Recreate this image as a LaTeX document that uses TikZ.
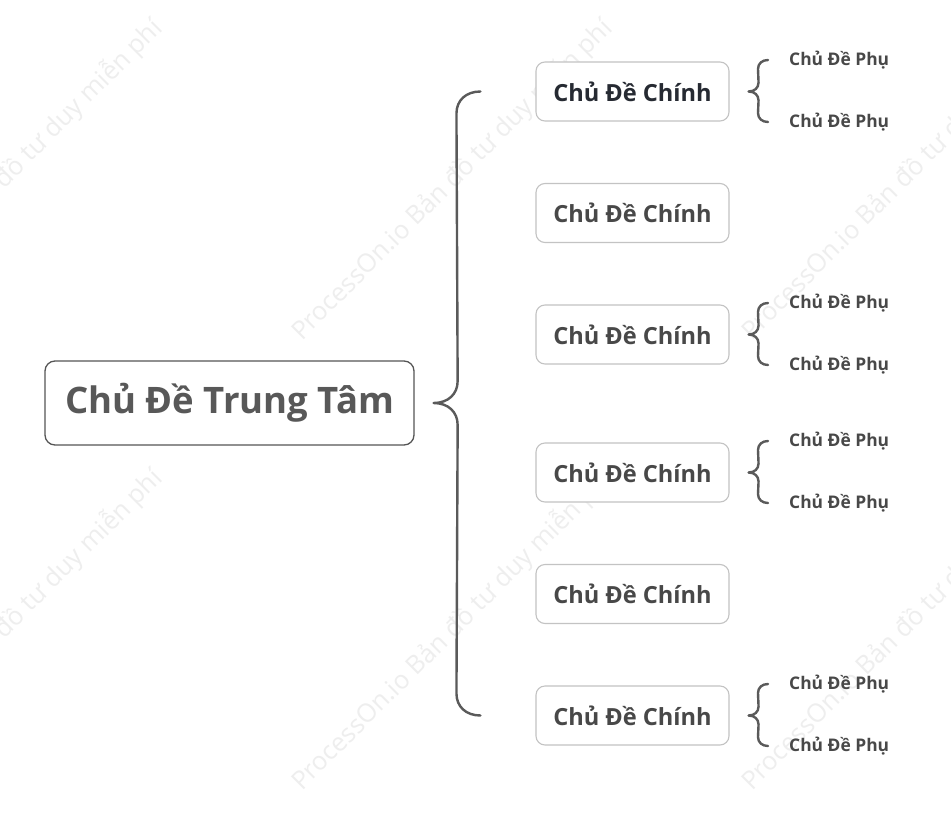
\documentclass[tikz,border=0pt]{standalone}
\usepackage{fontspec}
\setmainfont{Open Sans}
\usetikzlibrary{calc,positioning}

% curly bracket: #1 top end, #2 tip, #3 bottom end, #4 half width, #5 bend
\newcommand{\curlybrace}[5]{%
  \draw[brace] (#1) .. controls +(-0.6*#4,0) and +(0,-0.6*#5) .. ($(#1)+(-#4,#5)$)
    -- ($(#2)+(#4,-#5)$) .. controls +(0,0.6*#5) and +(0.6*#4,0) .. (#2)
    .. controls +(0.6*#4,0) and +(0,-0.6*#5) .. ($(#2)+(#4,#5)$)
    -- ($(#3)+(-#4,-#5)$) .. controls +(0,0.6*#5) and +(-0.6*#4,0) .. (#3);}

\begin{document}
\begin{tikzpicture}[x=1pt, y=-1pt, line cap=round, line join=round,
  central/.style={draw=ctrline, line width=1.3pt, rounded corners=10pt, fill=white,
    minimum width=369pt, minimum height=84pt, text=ctrtext,
    font=\fontsize{36.5}{40}\selectfont\bfseries},
  mainbox/.style={draw=boxline, line width=1.1pt, rounded corners=9pt, fill=white,
    minimum width=193pt, minimum height=59pt, text=maintext,
    font=\fontsize{23.6}{27}\selectfont\bfseries},
  subtopic/.style={anchor=west, inner sep=1pt, text=maintext,
    font=\fontsize{17.4}{20}\selectfont\bfseries},
  brace/.style={draw=braceline, line width=2.4pt},
  watermark/.style={rotate=45, text=markgray, font=\fontsize{25.5}{28}\selectfont}]

% Colors
\definecolor{ctrline}{RGB}{85,85,85}
\definecolor{ctrtext}{RGB}{88,88,88}
\definecolor{boxline}{RGB}{195,195,195}
\definecolor{maintext}{RGB}{72,72,72}
\definecolor{mainfirst}{RGB}{38,42,50}
\definecolor{braceline}{RGB}{90,90,90}
\definecolor{markgray}{RGB}{238,238,238}

% Background
\fill[white] (0,0) rectangle (951,822);
\useasboundingbox (0,0) rectangle (951,822);

% Watermark
\node[watermark] (w1) at (2,180) {ProcessOn.io Bản đồ tư duy miễn phí};
\node[watermark] (w2) at (452,180) {ProcessOn.io Bản đồ tư duy miễn phí};
\node[watermark] (w3) at (902,180) {ProcessOn.io Bản đồ tư duy miễn phí};
\node[watermark] (w4) at (2,630) {ProcessOn.io Bản đồ tư duy miễn phí};
\node[watermark] (w5) at (452,630) {ProcessOn.io Bản đồ tư duy miễn phí};
\node[watermark] (w6) at (902,630) {ProcessOn.io Bản đồ tư duy miễn phí};

% Central topic
\node[central] (ctr) at (229.5,403) {Chủ Đề Trung Tâm};

% Main topics
\node[mainbox, text=mainfirst] (m1) at (632.5,91.5) {Chủ Đề Chính};
\node[mainbox] (m2) at (632.5,213) {Chủ Đề Chính};
\node[mainbox] (m3) at (632.5,334.5) {Chủ Đề Chính};
\node[mainbox] (m4) at (632.5,472.5) {Chủ Đề Chính};
\node[mainbox] (m5) at (632.5,594) {Chủ Đề Chính};
\node[mainbox] (m6) at (632.5,715.5) {Chủ Đề Chính};

% Sub topics
\node[subtopic] (s1a) at (788,60) {Chủ Đề Phụ};
\node[subtopic] (s1b) at (788,122) {Chủ Đề Phụ};
\node[subtopic] (s3a) at (788,303) {Chủ Đề Phụ};
\node[subtopic] (s3b) at (788,365) {Chủ Đề Phụ};
\node[subtopic] (s4a) at (788,441) {Chủ Đề Phụ};
\node[subtopic] (s4b) at (788,503) {Chủ Đề Phụ};
\node[subtopic] (s6a) at (788,684) {Chủ Đề Phụ};
\node[subtopic] (s6b) at (788,746) {Chủ Đề Phụ};

% Big bracket
\coordinate (btip) at ($(ctr.east)+(19,0)$);
\coordinate (btop) at ($(m1.west)+(-55,0)$);
\coordinate (bbot) at ($(m6.west)+(-55,0)$);
\curlybrace{btop}{btip}{bbot}{24}{22}

% Small brackets
\coordinate (t1) at ($(m1.east)+(19,0)$);
\curlybrace{$(s1a.west)+(-20,0)$}{t1}{$(s1b.west)+(-20,0)$}{10}{9}
\coordinate (t3) at ($(m3.east)+(19,0)$);
\curlybrace{$(s3a.west)+(-20,0)$}{t3}{$(s3b.west)+(-20,0)$}{10}{9}
\coordinate (t4) at ($(m4.east)+(19,0)$);
\curlybrace{$(s4a.west)+(-20,0)$}{t4}{$(s4b.west)+(-20,0)$}{10}{9}
\coordinate (t6) at ($(m6.east)+(19,0)$);
\curlybrace{$(s6a.west)+(-20,0)$}{t6}{$(s6b.west)+(-20,0)$}{10}{9}
\end{tikzpicture}
\end{document}
